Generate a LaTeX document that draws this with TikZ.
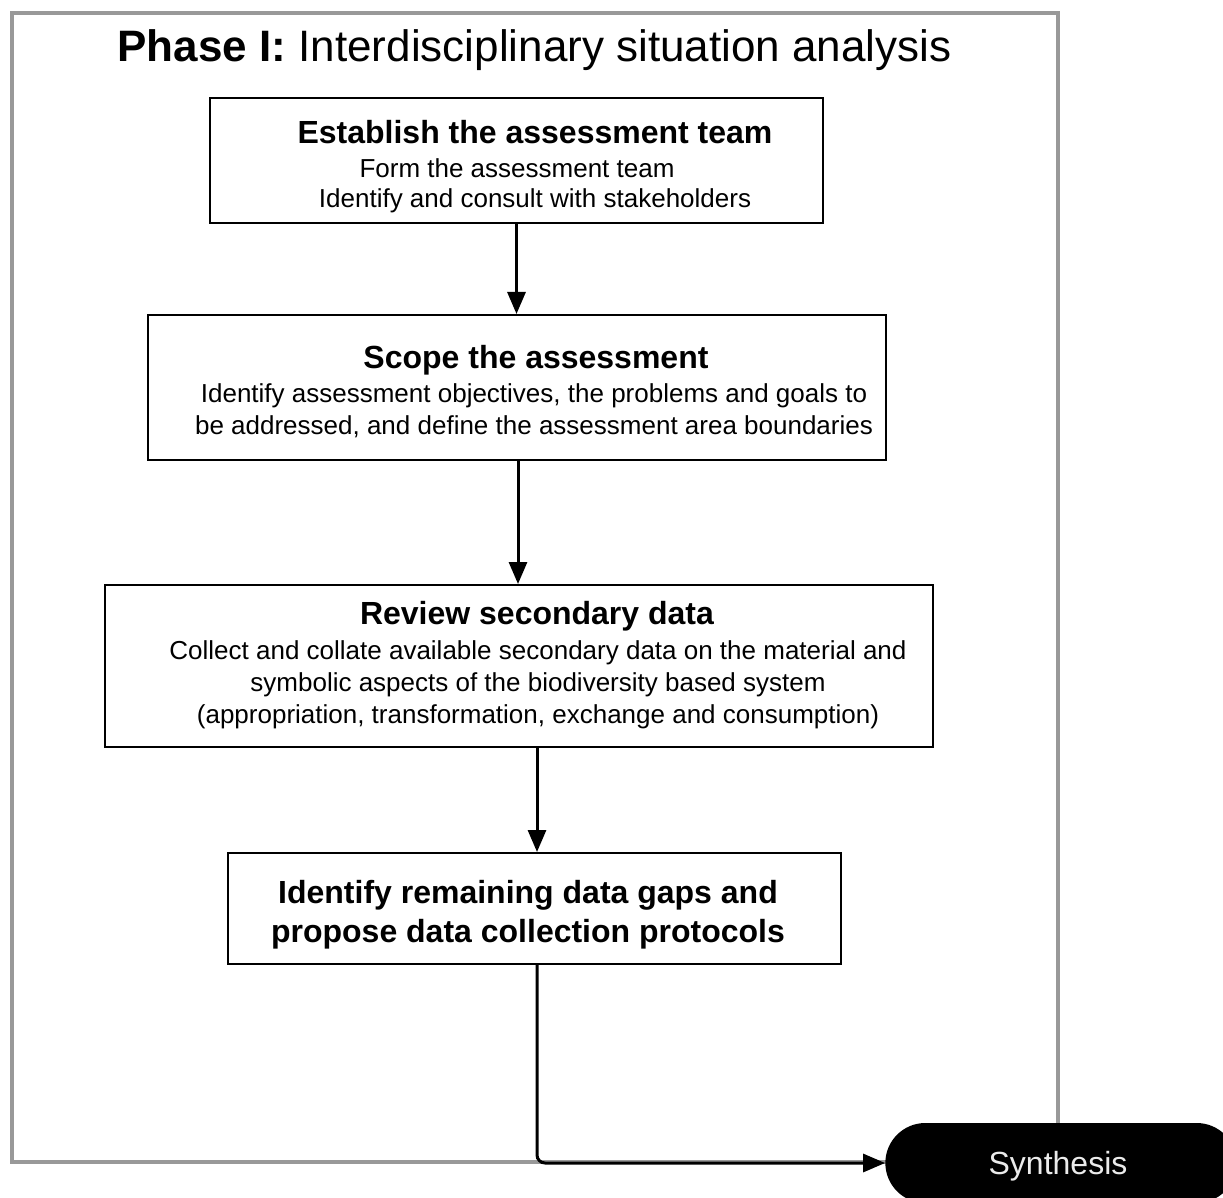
\documentclass[tikz,border=0pt]{standalone}
\usepackage{fontspec}
\setmainfont{Liberation Sans}
\usetikzlibrary{arrows.meta,shapes.misc}
\begin{document}
\begin{tikzpicture}[x=1pt,y=-1pt,
  frame/.style={draw=black!40,line width=4pt},
  stepbox/.style={draw,line width=2pt,rectangle,inner sep=0pt},
  boxtitle/.style={font=\fontsize{32}{36}\selectfont\bfseries},
  boxbody/.style={font=\fontsize{26}{32}\selectfont,align=center},
  arr/.style={line width=3pt,-{Triangle[length=22pt,width=18pt]}},
  synth/.style={rounded rectangle,fill=black,minimum width=358pt,minimum height=80pt}]
\useasboundingbox (0,0) rectangle (1223,1198);
\fill[white] (0,0) rectangle (1223,1198);
\draw[frame] (12,13) rectangle (1058,1162);
\node[font=\fontsize{44}{50}\selectfont] (title) at (534.5,50) {\textbf{Phase I:} Interdisciplinary situation analysis};
% boxes
\node[stepbox,minimum width=613pt,minimum height=125pt] (b1) at (516.5,160.5) {};
\node[stepbox,minimum width=738pt,minimum height=145pt] (b2) at (517,387.5) {};
\node[stepbox,minimum width=828pt,minimum height=162pt] (b3) at (519,666) {};
\node[stepbox,minimum width=613pt,minimum height=111pt] (b4) at (534.5,908.5) {};
% texts
\node[boxtitle] (t1) at (535,132) {Establish the assessment team};
\node[boxbody] (t1a) at (517,168) {Form the assessment team};
\node[boxbody] (t1b) at (535,201) {Identify and consult with stakeholders};
\node[boxtitle] (t2) at (536,360) {Scope the assessment};
\node[boxbody] (t2a) at (534,410.5) {Identify assessment objectives, the problems and goals to\\be addressed, and define the assessment area boundaries};
\node[boxtitle] (t3) at (537,616) {Review secondary data};
\node[boxbody] (t3a) at (538,685) {Collect and collate available secondary data on the material and\\symbolic aspects of the biodiversity based system\\(appropriation, transformation, exchange and consumption)};
\node[boxtitle,align=center,font=\fontsize{32}{39}\selectfont\bfseries] (t4) at (528,914.5) {Identify remaining data gaps and\\propose data collection protocols};
\node[synth] (syn) at (1061,1163) {};
\node[text=black!8,font=\fontsize{32}{36}\selectfont] (synt) at (1058,1166) {Synthesis};
% connectors
\draw[arr] (b1.south) -- (b1.south |- b2.north);
\draw[arr] ([xshift=1pt]b2.south) -- ([xshift=1pt]b2.south |- b3.north);
\draw[arr] ([xshift=18pt]b3.south) -- ([xshift=18pt]b3.south |- b4.north);
\draw[arr,rounded corners=8pt] ([xshift=2.5pt]b4.south) |- (syn.west);
\end{tikzpicture}
\end{document}
